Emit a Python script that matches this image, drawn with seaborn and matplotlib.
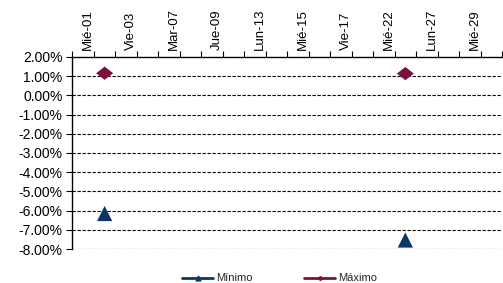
import matplotlib
matplotlib.use("Agg")
import matplotlib.pyplot as plt
import matplotlib.transforms as mtransforms
from matplotlib.lines import Line2D
from matplotlib.ticker import FuncFormatter, MultipleLocator
import numpy as np
import pandas as pd
import seaborn as sns

categories = ["Mié-01", "Jue-02", "Vie-03", "Lun-06", "Mar-07", "Mié-08", "Jue-09",
              "Vie-10", "Lun-13", "Mar-14", "Mié-15", "Jue-16", "Vie-17", "Mar-21",
              "Mié-22", "Jue-23", "Lun-27", "Mar-28", "Mié-29", "Jue-30"]
minimo = [None, -6.15, None, None, None, None, None, None, None, None,
          None, None, None, None, None, -7.53, None, None, None, None]
maximo = [None, 1.15, None, None, None, None, None, None, None, None,
          None, None, None, None, None, 1.13, None, None, None, None]
series_names = ["Mínimo", "Máximo"]
colors = {"Mínimo": "#0B3768", "Máximo": "#7A1040"}
diamond = [(-1, 0), (0, 0.78), (1, 0), (0, -0.78), (-1, 0)]
markers = {"Mínimo": "^", "Máximo": diamond}

rows = []
for i, c in enumerate(categories):
    for name, vals in zip(series_names, [minimo, maximo]):
        if vals[i] is not None:
            rows.append({"idx": i, "cat": c, "serie": name, "valor": vals[i]})
df = pd.DataFrame(rows)

sns.set_style("white")
plt.rcParams["font.family"] = ["Liberation Sans", "DejaVu Sans"]

fig = plt.figure(figsize=(5.03, 2.83), dpi=100)
ax = fig.add_axes([0.144, 0.12, 0.854, 0.679])

sizes = {"Mínimo": 120, "Máximo": 150}
for name in series_names:
    sub = df[df["serie"] == name]
    sns.scatterplot(data=sub, x="idx", y="valor", marker=markers[name],
                    color=colors[name], s=sizes[name], edgecolor="none",
                    ax=ax, legend=False, zorder=5)

ax.set_xlim(-0.5, len(categories) - 0.5)
ax.set_ylim(-8, 2)
ax.set_xlabel("")
ax.set_ylabel("")

# y axis
ax.yaxis.set_major_locator(MultipleLocator(1))
ax.yaxis.set_major_formatter(FuncFormatter(lambda v, p: f"{v:.2f}%"))
ax.tick_params(axis="y", which="major", left=True, length=4, width=0.8,
               color="black", labelsize=10, pad=3, labelcolor="black")
for v in range(-8, 2):
    ax.axhline(v, color="black", linestyle=(0, (3, 1.5)), linewidth=0.8, zorder=1)

# x axis on top
ax.xaxis.tick_top()
ax.set_xticks(np.arange(0, len(categories), 2))
ax.set_xticklabels(categories[::2], rotation=90)
ax.set_xticks(np.arange(-0.5, len(categories), 1), minor=True)
ax.tick_params(axis="x", which="major", top=True, bottom=False, length=0,
               labelsize=9.5, pad=5, labelcolor="black")
ax.tick_params(axis="x", which="minor", top=True, bottom=False, length=4,
               width=0.8, color="black")
offset = mtransforms.ScaledTranslation(5 / 100, 0, fig.dpi_scale_trans)
for lbl in ax.get_xticklabels():
    lbl.set_transform(lbl.get_transform() + offset)

for side in ["right", "bottom"]:
    ax.spines[side].set_visible(False)
for side in ["left", "top"]:
    ax.spines[side].set_visible(True)
    ax.spines[side].set_color("black")
    ax.spines[side].set_linewidth(1.0)

handles = [Line2D([0], [0], color=colors[n], marker=markers[n], markersize=3.5,
                  linewidth=2) for n in series_names]
fig.legend(handles, series_names, loc="center", bbox_to_anchor=(0.556, 0.016),
           ncol=2, frameon=False, fontsize=8, handlelength=2.8,
           handletextpad=0.27, columnspacing=4.6, borderaxespad=0, borderpad=0)

fig.savefig("out.png", dpi=100)
